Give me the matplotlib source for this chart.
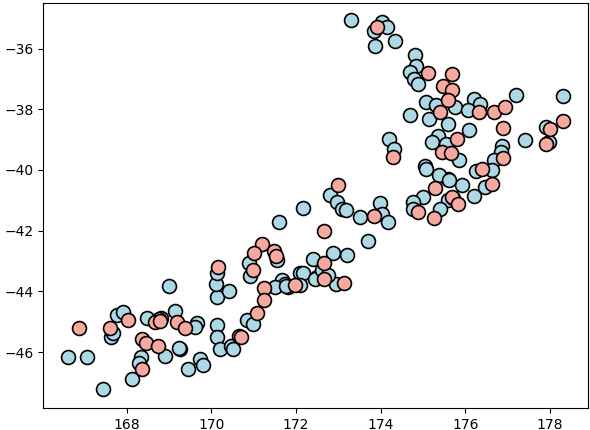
import numpy as np
import matplotlib
matplotlib.use('Agg')
import matplotlib.pyplot as plt

# blue group (lon, lat)
blue_lon = [166.62, 167.06, 167.44, 167.62, 167.68, 167.78, 167.92, 168.12, 168.33, 168.29,
            168.91, 168.49, 168.82, 168.76, 169.13, 169.67, 169.62, 169.01, 169.26, 169.44,
            169.73, 169.81, 170.13, 170.13, 170.20, 170.46, 170.52, 170.13, 170.11, 170.13,
            170.42, 169.24, 170.89, 170.92, 171.56, 172.09, 171.67, 171.74, 171.82, 171.50,
            170.85, 170.98, 172.81, 172.96, 173.08, 173.19, 173.52, 173.99, 174.03, 174.18,
            172.16, 171.59, 173.69, 172.88, 173.21, 172.41, 172.17, 172.49, 172.94, 171.76,
            172.09, 172.45, 172.61, 172.76,
            173.30, 173.83, 174.03, 174.14, 173.86, 174.34, 174.81, 174.83, 174.70, 174.79,
            174.87, 175.07, 175.30, 175.15, 175.58, 174.70, 175.76, 174.20, 174.32, 175.35,
            175.21, 175.55, 175.04, 176.19, 176.35, 176.07, 176.09, 177.20, 178.31, 177.41,
            177.91, 177.98, 175.84, 176.86, 176.84, 176.68, 176.62, 176.26, 176.46, 175.91,
            175.58, 176.19, 175.58, 175.07, 175.37, 175.60, 174.99, 174.77, 174.77, 175.40,
            175.71]
blue_lat = [-46.15, -46.15, -47.23, -45.50, -45.38, -44.79, -44.67, -46.87, -46.15, -46.37,
            -46.12, -44.87, -44.87, -44.90, -44.65, -45.04, -45.17, -43.82, -45.91, -46.54,
            -46.23, -46.43, -45.11, -45.50, -45.90, -45.79, -45.91, -44.18, -43.74, -43.41,
            -43.98, -45.85, -43.06, -43.50, -42.95, -43.39, -43.61, -43.74, -43.87, -43.85,
            -44.95, -45.06, -40.84, -41.06, -41.27, -41.31, -41.55, -41.08, -41.44, -41.73,
            -41.24, -41.73, -42.34, -42.72, -42.81, -42.92, -43.38, -43.52, -43.74, -43.83,
            -43.80, -43.58, -43.30, -43.45,
            -35.05, -35.41, -35.13, -35.28, -35.93, -35.76, -36.23, -36.59, -36.78, -37.00,
            -37.16, -37.77, -37.85, -38.31, -38.50, -38.20, -37.93, -38.97, -39.32, -38.89,
            -39.08, -39.13, -39.88, -37.66, -37.82, -38.04, -38.67, -37.52, -37.55, -39.00,
            -38.59, -39.08, -39.68, -39.22, -39.41, -39.66, -39.99, -40.05, -40.56, -40.50,
            -40.29, -40.87, -41.00, -39.96, -40.18, -40.34, -40.89, -41.05, -41.27, -41.27,
            -40.94]

# red group (lon, lat)
red_lon = [166.88, 167.61, 168.03, 168.36, 168.35, 168.46, 168.73, 168.67, 168.78, 169.18,
           169.38, 170.66, 170.15, 171.19, 171.01, 170.98, 171.47, 171.53, 171.25, 171.23,
           171.07, 170.71, 173.00, 173.84, 172.66, 172.66, 172.66, 173.12, 171.98, 173.92,
           175.12, 175.67, 175.46, 175.68, 175.59, 175.39, 174.28, 175.44, 175.65, 175.80,
           176.33, 176.67, 176.93, 176.88, 178.00, 178.31, 177.91, 176.89, 176.38, 176.62,
           175.68, 175.82, 175.28, 174.89, 175.26]
red_lat = [-45.20, -45.20, -44.95, -46.54, -45.58, -45.71, -45.79, -45.02, -44.98, -45.02,
           -45.20, -45.47, -43.19, -42.45, -42.75, -43.28, -42.67, -42.84, -43.90, -44.27,
           -44.70, -45.50, -40.50, -41.52, -42.01, -43.06, -43.58, -43.72, -43.80, -35.28,
           -36.80, -36.83, -37.22, -37.36, -37.68, -38.10, -39.58, -39.41, -39.44, -38.97,
           -38.10, -38.10, -37.93, -38.62, -38.64, -38.39, -39.13, -39.60, -39.96, -40.47,
           -40.89, -41.13, -40.58, -41.40, -41.57]

fig = plt.figure(figsize=(5.9, 4.3), dpi=100)
ax = fig.add_axes([0.0734, 0.0505, 0.9237, 0.9426])

ax.scatter(blue_lon, blue_lat, s=100, c='lightblue', edgecolors='black', linewidths=1.2)
ax.scatter(red_lon, red_lat, s=100, c='#F7A9A0', edgecolors='black', linewidths=1.2)

ax.set_xlim(166.03, 178.9)
ax.set_ylim(-47.85, -34.5)
ax.set_xticks([168, 170, 172, 174, 176, 178])
ax.set_yticks([-46, -44, -42, -40, -38, -36])

fig.savefig('out.png', dpi=100)
